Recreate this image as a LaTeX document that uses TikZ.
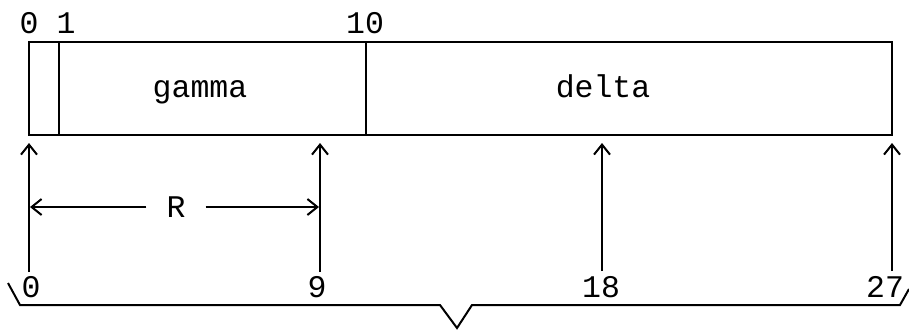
\documentclass[tikz,border=0pt]{standalone}
\usepackage{fontspec}
\setmonofont{Liberation Mono}
\usetikzlibrary{arrows.meta}
\begin{document}
\begin{tikzpicture}[x=1pt,y=-1pt,
  txt/.style={font=\fontsize{31.5}{36}\selectfont\ttfamily, inner sep=0pt},
  cell/.style={draw, line width=2.4pt, minimum height=93pt, inner sep=0pt},
  ptr/.style={line width=2pt, -{Straight Barb[length=10pt,width=16pt,line width=2pt]}},
  brace/.style={line width=2pt, line join=miter}]
\useasboundingbox (0,0) rectangle (909,330);
% memory cells
\node[cell, minimum width=30pt]  (c0) at (44,88.5) {};
\node[cell, minimum width=307pt] (cg) at (212.5,88.5) {};
\node[cell, minimum width=526pt] (cd) at (629,88.5) {};
\node[txt, anchor=base] (gamma) at (200,97) {gamma};
\node[txt, anchor=base] (delta) at (603,97) {delta};
% top labels
\node[txt, anchor=base] (top0) at (29,33) {0};
\node[txt, anchor=base] (top1) at (66,33) {1};
\node[txt, anchor=base] (top10) at (365,33) {10};
% bottom labels
\node[txt, anchor=base] (l0) at (31,297) {0};
\node[txt, anchor=base] (l9) at (317,297) {9};
\node[txt, anchor=base] (l18) at (601,297) {18};
\node[txt, anchor=base] (l27) at (885,297) {27};
% pointer arrows
\coordinate (s0) at (29,272);   \coordinate (t0) at (29,143);
\coordinate (s9) at (320,272);  \coordinate (t9) at (320,143);
\coordinate (s18) at (602,271); \coordinate (t18) at (602,143);
\coordinate (s27) at (892,271); \coordinate (t27) at (892,143);
\draw[ptr] (s0) -- (t0);
\draw[ptr] (s9) -- (t9);
\draw[ptr] (s18) -- (t18);
\draw[ptr] (s27) -- (t27);
% R dimension
\node[txt, inner xsep=20pt] (R) at (176,207) {R};
\coordinate (rl) at (30,207);
\coordinate (rr) at (319,207);
\draw[ptr] (R.west) -- (rl);
\draw[ptr] (R.east) -- (rr);
% brace
\coordinate (br1) at (8,283);
\coordinate (br2) at (20,305);
\coordinate (br3) at (440,305);
\coordinate (br4) at (457,328);
\coordinate (br5) at (472,305);
\coordinate (br6) at (900,305);
\coordinate (br7) at (909,289);
\draw[brace] (br1) -- (br2) -- (br3) -- (br4) -- (br5) -- (br6) -- (br7);
\end{tikzpicture}
\end{document}
